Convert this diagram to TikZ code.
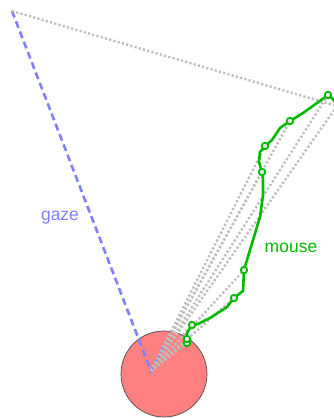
\documentclass[tikz,border=0pt]{standalone}
\usepackage{fontspec}
\setmainfont{Liberation Sans}
\definecolor{gazeblue}{HTML}{8080FF}
\definecolor{mousegreen}{HTML}{00BB00}
\definecolor{dotgray}{HTML}{BDBDBD}
\definecolor{headred}{HTML}{FF8080}
\begin{document}
\begin{tikzpicture}[x=1pt,y=-1pt,
  graydot/.style={draw=dotgray,line width=2.4pt,dash pattern=on 2.2pt off 2.2pt},
  gazeline/.style={draw=gazeblue,line width=2.6pt,dash pattern=on 7pt off 4pt},
  mousepath/.style={draw=mousegreen,line width=2.6pt,line join=round,line cap=round},
  marker/.style={circle,draw=mousegreen,line width=1.8pt,fill=dotgray!40,inner sep=0pt,minimum size=6.5pt},
  lbl/.style={font=\fontsize{17.5}{17.5}\selectfont,inner sep=0pt}]
\useasboundingbox (0,0) rectangle (334,418);
\clip (0,0) rectangle (334,418);
% head
\node[circle,draw=black!70,line width=0.7pt,fill=headred,minimum size=86pt,inner sep=0pt] (head) at (164,374) {};
\coordinate (C) at (151,371);
\coordinate (G) at (12,11);
\coordinate (E) at (337,106);
\coordinate (B) at (167,341);
% markers
\coordinate (m1) at (187,343);
\coordinate (m2) at (187,339);
\coordinate (m3) at (192,325);
\coordinate (m4) at (234,298);
\coordinate (m5) at (244,270);
\coordinate (m6) at (262,172);
\coordinate (m7) at (265,146);
\coordinate (m8) at (290,121);
\coordinate (m9) at (328,95);
% gaze
\draw[gazeline] (G) -- (C) -- (B);
% dotted connectors
\draw[graydot] (G) -- (E);
\foreach \m in {m1,m2,m3,m4,m5,m6,m7,m8,m9}{\draw[graydot] (C) -- (\m);}
\draw[graydot] (C) -- (E);
% mouse path
\draw[mousepath] (m1) -- (m2) -- (187,333) -- (m3) -- (198,324) -- (210,318) -- (227,307) -- (m4) -- (243,291) -- (m5) -- (247,260) -- (253,240) -- (260,217) -- (263,195) -- (263,180) -- (m6) -- (259,162) -- (260,152) -- (m7) -- (272,140) -- (280,128) -- (m8) -- (303,113) -- (317,103) -- (m9) -- (333,99) -- (E);
\foreach \m in {m1,m2,m3,m4,m5,m6,m7,m8,m9}{\node[marker] at (\m) {};}
% labels
\node[lbl,text=gazeblue] (gz) at (60,218) {gaze};
\node[lbl,text=mousegreen] (ms) at (291,248) {mouse};
\end{tikzpicture}
\end{document}
